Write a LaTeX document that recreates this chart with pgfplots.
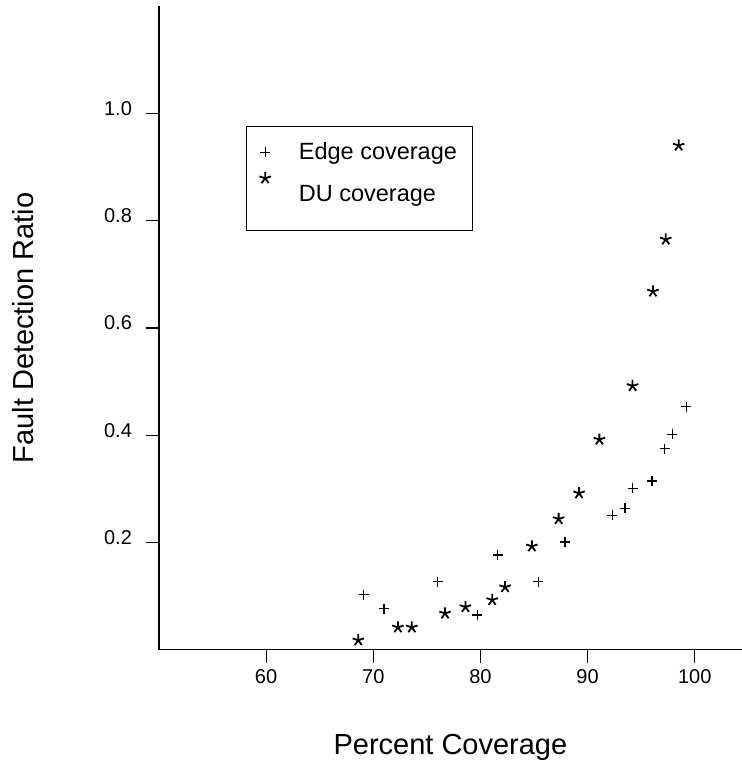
\documentclass[border=0pt]{standalone}
\usepackage{fontspec}
\setmainfont{Liberation Sans}
\usepackage{pgfplots}
\pgfplotsset{compat=1.18}

\begin{document}
\begin{tikzpicture}
\begin{axis}[
  scale only axis, width=291.5pt, height=322pt,
  xmin=50, xmax=104.4, ymin=0, ymax=1.2,
  axis x line=bottom, axis y line=left,
  axis line style={-, line width=0.6pt},
  tick align=outside, major tick length=6.5pt,
  tick style={line width=0.6pt, black},
  xtick={60,70,80,90,100}, ytick={0.2,0.4,0.6,0.8,1.0},
  /pgf/number format/assume math mode=true,
  ticklabel style={font=\fontsize{10}{12}\selectfont},
  yticklabel style={anchor=base east, xshift=-3.5pt, yshift=-1pt,
    /pgf/number format/fixed,
    /pgf/number format/fixed zerofill, /pgf/number format/precision=1},
  xlabel={Percent Coverage}, ylabel={Fault Detection Ratio},
  label style={font=\fontsize{14.5}{17}\selectfont},
  xlabel style={at={(rel axis cs:0.5,-0.1632)}, anchor=base},
  ylabel style={at={(rel axis cs:-0.2156,0.5)}, anchor=base},
  clip=false,
  legend style={at={(rel axis cs:0.150,0.814)}, anchor=north west,
    draw=black, line width=0.5pt, inner xsep=0pt, inner ysep=0pt,
    column sep=0pt, row sep=0pt, nodes={inner sep=0pt},
    font=\fontsize{11.75}{14}\selectfont},
  legend cell align=left,
]
% Edge coverage
\addplot[only marks, mark=+, mark size=2.5pt, mark options={line width=0.65pt},
  legend image code/.code={
    \path[draw=none] (0pt,-10pt) rectangle (26pt,13pt);
    \draw[black, mark=+, mark size=2.5pt, line width=0.65pt]
      plot coordinates {(9.15pt,0pt)};}] coordinates {
  (69.1,0.103) (71.0,0.077) (76.0,0.127) (79.7,0.065) (81.6,0.177)
  (85.4,0.127) (87.9,0.201) (92.3,0.251) (93.5,0.264) (94.2,0.301)
  (96.0,0.315) (97.2,0.375) (97.9,0.402) (99.2,0.453)
};
\addlegendentry{Edge coverage\hspace*{7.6pt}}
% DU coverage
\addplot[only marks, mark=star, mark size=3pt, mark options={line width=0.9pt},
  legend image code/.code={
    \path[draw=none] (0pt,-17.9pt) rectangle (26pt,10.75pt);
    \draw[black, mark=star, mark size=3pt, line width=0.9pt]
      plot coordinates {(9.15pt,8.25pt)};}] coordinates {
  (68.6,0.018) (72.3,0.042) (73.6,0.042) (76.7,0.068) (78.6,0.080)
  (81.1,0.093) (82.3,0.117) (84.8,0.193) (87.3,0.244) (89.2,0.292)
  (91.1,0.392) (94.2,0.492) (96.1,0.668) (97.3,0.765) (98.5,0.940)
};
\addlegendentry{DU coverage}
\coordinate (bl) at (rel axis cs:-0.2727,-0.1741);
\coordinate (tr) at (rel axis cs:1,1.0093);
\end{axis}
\pgfresetboundingbox
\path[use as bounding box] (bl) rectangle (tr);
\end{tikzpicture}
\end{document}
